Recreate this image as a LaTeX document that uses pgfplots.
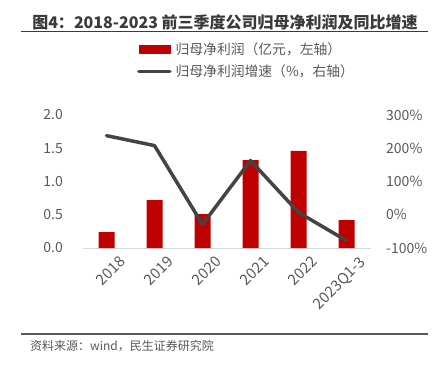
\documentclass[border=0pt]{standalone}
\usepackage{pgfplots}
\pgfplotsset{compat=1.18}
\usepackage{fontspec}
\setmainfont{Noto Sans CJK SC}
\definecolor{barred}{HTML}{C00000}
\definecolor{linegray}{HTML}{444444}
\definecolor{txtgray}{HTML}{595959}
\definecolor{titlegray}{HTML}{3A3A3A}
\newcommand{\fs}[1]{\fontsize{#1}{#1}\selectfont}
\begin{document}
\begin{tikzpicture}
\begin{axis}[
  at={(0,0)}, anchor=south west,
  scale only axis, width=288pt, height=133pt,
  xmin=-0.5, xmax=5.5, ymin=0, ymax=2,
  axis y line*=left, axis x line*=bottom,
  y axis line style={draw=none},
  x axis line style={draw=black!15, line width=0.8pt},
  xtick={0,1,2,3,4,5},
  xticklabels={2018,2019,2020,2021,2022,2023Q1-3},
  x tick label style={rotate=45, anchor=north east, font=\fs{15}, text=txtgray, inner sep=0pt, xshift=3.5pt, yshift=-13.5pt},
  ytick={0,0.5,1,1.5,2},
  yticklabels={0.0,0.5,1.0,1.5,2.0},
  y tick label style={font=\fs{14}, text=txtgray, inner sep=0pt, anchor=east, xshift=-19.5pt},
  major tick length=0pt,
  tick style={draw=none},
  clip=false,
]
\addplot[ybar, bar width=16pt, fill=barred, draw=none] coordinates {(0,0.24)(1,0.72)(2,0.51)(3,1.32)(4,1.46)(5,0.42)};
\end{axis}
\begin{axis}[
  at={(0,0)}, anchor=south west,
  scale only axis, width=288pt, height=133pt,
  xmin=-0.5, xmax=5.5, ymin=-100, ymax=300,
  axis y line*=right, axis x line=none,
  y axis line style={draw=none},
  ytick={-100,0,100,200,300},
  yticklabels={-100\%,0\%,100\%,200\%,300\%},
  y tick label style={font=\fs{14}, text=txtgray, inner sep=0pt, anchor=west, xshift=15.5pt},
  major tick length=0pt,
  tick style={draw=none},
  clip=false,
  legend style={at={(0.189,1.41)}, anchor=west, draw=none, fill=none, inner sep=0pt,
    nodes={inner sep=0pt, text=txtgray, font=\fs{13.8}},
    row sep=9pt},
  legend cell align=left,
  legend columns=1,
]
\addlegendimage{legend image code/.code={\fill[barred] (0pt,-4pt) rectangle (31pt,4pt); \path (35pt,0pt);}}
\addlegendentry{归母净利润（亿元，左轴）}
\addplot[linegray, line width=3.5pt, line join=round, line cap=round,
  legend image code/.code={\draw[linegray, line width=3.5pt] (0pt,0pt) -- (31pt,0pt); \path (35pt,0pt);}]
  coordinates {(0,238)(1,208)(2,-29)(3,163)(4,7)(5,-78)};
\addlegendentry{归母净利润增速（\%，右轴）}
\end{axis}
\node[font=\bfseries\fs{16}, text=titlegray] at (142.5pt,226pt) {图4：2018-2023 前三季度公司归母净利润及同比增速};
\draw[titlegray, line width=1pt] (-61.5pt,217pt) -- (345.5pt,217pt);
\draw[txtgray, line width=1.5pt] (-61.5pt,-86pt) -- (345.5pt,-86pt);
\node[anchor=west, inner sep=0pt, font=\fs{12}, text=txtgray] at (-52.5pt,-98pt) {资料来源：wind，民生证券研究院};
\pgfresetboundingbox
\path[use as bounding box] (-82.5pt,-120pt) rectangle (355.5pt,248pt);
\end{tikzpicture}
\end{document}
